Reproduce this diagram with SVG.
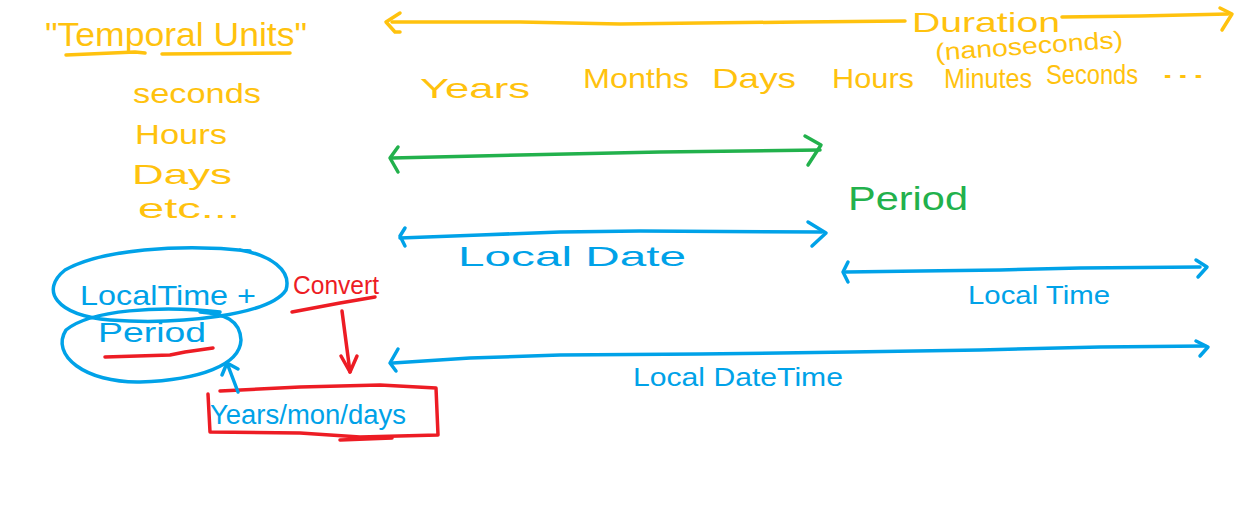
<svg xmlns="http://www.w3.org/2000/svg" width="1242" height="524" viewBox="0 0 1242 524">
<defs>
<style>
text{font-family:"Liberation Sans","DejaVu Sans",sans-serif;}
.y{fill:#FFC20E;} .g{fill:#22B14C;} .b{fill:#00A2E8;} .r{fill:#ED1C24;}
.sy{stroke:#FFC20E;} .sg{stroke:#22B14C;} .sb{stroke:#00A2E8;} .sr{stroke:#ED1C24;}
.ln{fill:none;stroke-width:3.5;stroke-linecap:round;stroke-linejoin:round;}
.t{font-size:28px;}
.tl{font-size:34px;}
</style>
</defs>
<rect width="1242" height="524" fill="#ffffff"/>

<g id="temporal-units">
<text class="y tl" x="45" y="46" textLength="262" lengthAdjust="spacingAndGlyphs">"Temporal Units"</text>
<path class="ln sy" d="M66 55 L135 52 L145 53 M162 54 L290 53"/>
<text class="y t" x="133" y="103" textLength="128" lengthAdjust="spacingAndGlyphs">seconds</text>
<text class="y t" x="135" y="144" textLength="92" lengthAdjust="spacingAndGlyphs">Hours</text>
<text class="y t" x="132" y="184" textLength="100" lengthAdjust="spacingAndGlyphs">Days</text>
<text class="y t" x="138" y="218" textLength="102" lengthAdjust="spacingAndGlyphs">etc...</text>
</g>

<g id="duration">
<text class="y t" x="912" y="32" textLength="148" lengthAdjust="spacingAndGlyphs">Duration</text>
<text class="y" font-size="24" x="935" y="54" textLength="188" lengthAdjust="spacingAndGlyphs" transform="rotate(-4 1030 45)">(nanoseconds)</text>
</g>

<g id="units-row">
<text class="y t" x="420" y="98" textLength="110" lengthAdjust="spacingAndGlyphs">Years</text>
<text class="y t" x="583" y="88" textLength="106" lengthAdjust="spacingAndGlyphs">Months</text>
<text class="y t" x="712" y="88" textLength="84" lengthAdjust="spacingAndGlyphs">Days</text>
<text class="y t" x="832" y="88" textLength="82" lengthAdjust="spacingAndGlyphs">Hours</text>
<text class="y t" x="944" y="88" textLength="88" lengthAdjust="spacingAndGlyphs">Minutes</text>
<text class="y t" x="1046" y="84" textLength="92" lengthAdjust="spacingAndGlyphs">Seconds</text>
<text class="y t" x="1160" y="78" textLength="46" lengthAdjust="spacingAndGlyphs">...</text>
</g>

<g id="period">
<text class="g tl" x="848" y="210" textLength="120" lengthAdjust="spacingAndGlyphs">Period</text>
</g>

<g id="local-date">
<text class="b t" x="458" y="266" textLength="228" lengthAdjust="spacingAndGlyphs">Local Date</text>
</g>

<g id="local-time">
<text class="b" font-size="26" x="968" y="304" textLength="142" lengthAdjust="spacingAndGlyphs">Local Time</text>
</g>

<g id="local-datetime">
<text class="b" font-size="26" x="633" y="386" textLength="210" lengthAdjust="spacingAndGlyphs">Local DateTime</text>
</g>

<g id="localtime-plus">
<path class="ln sb" d="M250 251 C180 243 100 250 65 270 C40 290 55 315 110 320 C180 325 270 315 286 290 C292 270 270 255 240 250"/>
<text class="b t" x="80" y="305" textLength="176" lengthAdjust="spacingAndGlyphs">LocalTime +</text>
</g>

<g id="period-node">
<path class="ln sb" d="M220 312 C160 305 90 310 66 330 C50 355 85 383 140 382 C200 380 240 365 241 340 C240 320 225 314 200 312"/>
<text class="b t" x="98" y="342" textLength="108" lengthAdjust="spacingAndGlyphs">Period</text>
<path class="ln sr" d="M105 357 L170 355 L185 352 L213 348"/>
</g>

<g id="convert">
<text class="r" font-size="26" x="293" y="294" textLength="86" lengthAdjust="spacingAndGlyphs">Convert</text>
<path class="ln sr" d="M292 312 L340 303 L375 297"/>
</g>

<g id="years-mon-days">
<path class="ln sr" d="M208 394 L210 432 L300 433 L360 437 L438 435 L436 388 L380 385 L300 387 L220 391"/>
<text class="b" font-size="27" x="210" y="424" textLength="196" lengthAdjust="spacingAndGlyphs">Years/mon/days</text>
<path class="ln sr" d="M340 440 L392 438"/>
</g>

<g id="connectors">
<path class="ln sy" d="M392 22 L520 22 L620 24 L700 23 L800 22 L905 21 M1062 17 L1140 16 L1228 14"/>
<path class="ln sy" d="M400 13 L386 22 L395 32 L400 32"/>
<path class="ln sy" d="M1220 8 L1232 14 L1222 30"/>
<path class="ln sg" d="M392 158 L520 155 L660 152 L820 150"/>
<path class="ln sg" d="M398 147 L390 158 L398 172"/>
<path class="ln sg" d="M805 136 L821 145 L808 165"/>
<path class="ln sb" d="M400 238 L480 235 L560 232 L640 231 L822 232"/>
<path class="ln sb" d="M405 228 L400 236 L405 246"/>
<path class="ln sb" d="M808 222 L826 233 L812 246"/>
<path class="ln sb" d="M846 272 L920 271 L1000 270 L1080 268 L1200 267"/>
<path class="ln sb" d="M848 262 L843 272 L848 282"/>
<path class="ln sb" d="M1196 260 L1207 267 L1198 277"/>
<path class="ln sb" d="M393 363 L470 358 L560 355 L700 354 L850 352 L980 350 L1100 347 L1205 346"/>
<path class="ln sb" d="M398 349 L390 363 L396 371"/>
<path class="ln sb" d="M1196 341 L1208 347 L1200 356"/>
<path class="ln sr" d="M342 311 L350 372"/>
<path class="ln sr" d="M341 356 L350 372 L357 356"/>
<path class="ln sb" d="M238 392 L227 363"/>
<path class="ln sb" d="M222 375 L227 363 L238 369"/>
</g>
</svg>
